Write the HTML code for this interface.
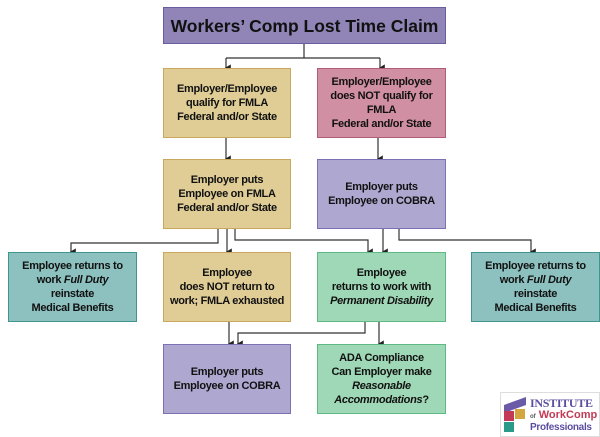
<!DOCTYPE html>
<html><head><meta charset="utf-8"><style>
body{margin:0;width:600px;height:437px;background:#fff;position:relative;overflow:hidden;font-family:"Liberation Sans",sans-serif}
.b{position:absolute;box-sizing:border-box;border:1.5px solid;display:flex;align-items:center;justify-content:center;text-align:center;font-weight:bold;font-size:11px;line-height:14px;color:#111;letter-spacing:-0.3px}
.b>span{display:block}
.y{background:#e0cd96;border-color:#c8a85c}
.p{background:#aea8d0;border-color:#7e70b5}
.k{background:#d08fa2;border-color:#b25d78}
.t{background:#8cc1bf;border-color:#3f9691}
.g{background:#9fd8b6;border-color:#5dba85}
svg{position:absolute;left:0;top:0}
</style></head><body>
<svg width="600" height="437">
<defs><marker id="a" markerWidth="6" markerHeight="6" refX="3" refY="5" orient="auto"><path d="M0,1 L6,1 L3,6z" fill="#222"/></marker></defs>
<g stroke="#333" stroke-width="1.2" fill="none">
<path d="M304,44V58"/><path d="M226,58H380"/>
<path d="M226,58V68" marker-end="url(#a)"/><path d="M380,58V68" marker-end="url(#a)"/>
<path d="M226,138V159" marker-end="url(#a)"/><path d="M378,138V159" marker-end="url(#a)"/>
<path d="M218,229V243H71V252" marker-end="url(#a)"/>
<path d="M227,229V252" marker-end="url(#a)"/>
<path d="M235,229V240H368V252" marker-end="url(#a)"/>
<path d="M383,229V252" marker-end="url(#a)"/>
<path d="M399,229V240H531V252" marker-end="url(#a)"/>
<path d="M229,322V344" marker-end="url(#a)"/>
<path d="M365,322V333H238V344" marker-end="url(#a)"/>
<path d="M379,322V344" marker-end="url(#a)"/>
</g></svg>
<div class="b" style="left:163px;top:7px;width:283px;height:37px;background:#9085b6;border-color:#6b5c9f;font-size:17.5px;letter-spacing:0"><span>Workers’ Comp Lost Time Claim</span></div>
<div class="b y" style="left:163px;top:68px;width:128px;height:70px"><span>Employer/Employee<br>qualify for FMLA<br>Federal and/or State</span></div>
<div class="b k" style="left:317px;top:68px;width:129px;height:70px"><span>Employer/Employee<br>does NOT qualify for<br>FMLA<br>Federal and/or State</span></div>
<div class="b y" style="left:163px;top:159px;width:128px;height:70px"><span>Employer puts<br>Employee on FMLA<br>Federal and/or State</span></div>
<div class="b p" style="left:317px;top:159px;width:129px;height:70px"><span>Employer puts<br>Employee on COBRA</span></div>
<div class="b t" style="left:8px;top:252px;width:129px;height:70px"><span>Employee returns to<br>work <i>Full Duty</i><br>reinstate<br>Medical Benefits</span></div>
<div class="b y" style="left:163px;top:252px;width:128px;height:70px"><span>Employee<br>does NOT return to<br>work; FMLA exhausted</span></div>
<div class="b g" style="left:317px;top:252px;width:129px;height:70px"><span>Employee<br>returns to work with<br><i>Permanent Disability</i></span></div>
<div class="b t" style="left:471px;top:252px;width:129px;height:70px"><span>Employee returns to<br>work <i>Full Duty</i><br>reinstate<br>Medical Benefits</span></div>
<div class="b p" style="left:163px;top:344px;width:128px;height:70px"><span>Employer puts<br>Employee on COBRA</span></div>
<div class="b g" style="left:317px;top:344px;width:129px;height:70px"><span>ADA Compliance<br>Can Employer make<br><i>Reasonable<br>Accommodations</i>?</span></div>
<div style="position:absolute;left:500px;top:392px;width:100px;height:45px;border:1px solid #ddd;box-sizing:border-box">
<div style="position:absolute;left:3px;top:8px;width:22px;height:8px;background:#6a5aa8;transform:skewY(-20deg)"></div>
<div style="position:absolute;left:3px;top:18px;width:10px;height:10px;background:#c23a55"></div>
<div style="position:absolute;left:14px;top:16px;width:10px;height:10px;background:#d3a640"></div>
<div style="position:absolute;left:3px;top:29px;width:10px;height:10px;background:#2a9a8a"></div>
<div style="position:absolute;left:29px;top:3px;font:bold 12px 'Liberation Serif',serif;color:#5a4ea0;letter-spacing:-0.3px">INSTITUTE</div>
<div style="position:absolute;left:29px;top:16px;font:bold 11px 'Liberation Sans',sans-serif;color:#c23a55;white-space:nowrap"><span style="font-size:6px;color:#555">of</span> WorkComp</div>
<div style="position:absolute;left:29px;top:29px;font:bold 10px 'Liberation Sans',sans-serif;color:#5a4ea0;letter-spacing:-0.3px">Professionals</div>
</div>
</body></html>
